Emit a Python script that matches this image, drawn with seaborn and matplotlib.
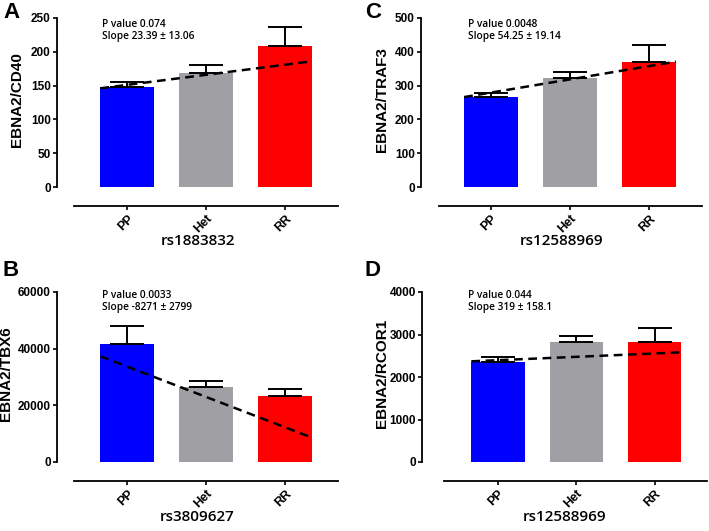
import matplotlib
matplotlib.use("Agg")
import matplotlib.pyplot as plt
import seaborn as sns
import pandas as pd
import numpy as np

sns.set_style("ticks")
plt.rcParams['font.family'] = ['Liberation Sans', 'DejaVu Sans']
for k in ["text.color", "axes.labelcolor", "xtick.color", "ytick.color", "axes.edgecolor"]:
    plt.rcParams[k] = "black"

categories = ["PP", "Het", "RR"]
colors = ["#0000FF", "#A0A0A4", "#FF0000"]

# Panel A
a_means = [148, 169, 208]
a_sem = [8, 11, 28]
a_trend = [146, 186]
# Panel B
b_means = [41500, 26400, 23300]
b_sem = [6600, 2100, 2350]
b_trend = [37300, 8600]
# Panel C
c_means = [265, 323, 371]
c_sem = [14, 17, 48]
c_trend = [266, 371]
# Panel D
d_means = [2353, 2816, 2831]
d_sem = [125, 150, 322]
d_trend = [2369, 2580]

panels = [
    dict(letter="A", means=a_means, sem=a_sem, trend=a_trend, ylabel="EBNA2/CD40", xlabel="rs1883832",
         p="P value 0.074", s="Slope 23.39 \u00b1 13.06", ymax=250, step=50,
         rect=[57, 18, 281, 169], xlim=(-0.89, 2.67), xb=-0.68, ylab_x=-0.117, xlab_y=-0.278,
         txt=(0.16, 0.964, 0.888), letter_xy=(3, 12)),
    dict(letter="B", means=b_means, sem=b_sem, trend=b_trend, ylabel="EBNA2/TBX6", xlabel="rs3809627",
         p="P value 0.0033", s="Slope -8271 \u00b1 2799", ymax=60000, step=20000,
         rect=[57, 292, 281, 170], xlim=(-0.89, 2.67), xb=-0.68, ylab_x=-0.155, xlab_y=-0.28,
         txt=(0.16, 0.982, 0.906), letter_xy=(3, 271)),
    dict(letter="C", means=c_means, sem=c_sem, trend=c_trend, ylabel="EBNA2/TRAF3", xlabel="rs12588969",
         p="P value 0.0048", s="Slope 54.25 \u00b1 19.14", ymax=500, step=100,
         rect=[421, 18, 281, 169], xlim=(-0.886, 2.67), xb=-0.66, ylab_x=-0.114, xlab_y=-0.278,
         txt=(0.167, 0.964, 0.888), letter_xy=(365, 12)),
    dict(letter="D", means=d_means, sem=d_sem, trend=d_trend, ylabel="EBNA2/RCOR1", xlabel="rs12588969",
         p="P value 0.044", s="Slope 319 \u00b1 158.1", ymax=4000, step=1000,
         rect=[422, 292, 285, 170], xlim=(-0.97, 2.67), xb=-0.69, ylab_x=-0.116, xlab_y=-0.28,
         txt=(0.161, 0.982, 0.906), letter_xy=(365, 271)),
]

W, H = 709, 531
fig = plt.figure(figsize=(W / 100, H / 100), dpi=100)

for pn in panels:
    l, t, w, h = pn["rect"]
    ax = fig.add_axes([l / W, 1 - (t + h) / H, w / W, h / H])
    df = pd.DataFrame({"genotype": categories, "value": pn["means"]})
    sns.barplot(data=df, x="genotype", y="value", hue="genotype", palette=colors, saturation=1,
                width=0.68, errorbar=None, legend=False, ax=ax, edgecolor="none", zorder=2)
    x = np.arange(len(categories))
    ax.errorbar(x, pn["means"], yerr=[np.zeros(3), pn["sem"]], fmt="none", ecolor="black",
                elinewidth=1.4, capsize=12, capthick=1.4, zorder=3)
    ax.plot([-0.34, 2.34], pn["trend"], color="black", lw=1.8, ls=(0, (3.5, 2.2)), zorder=4)
    sns.despine(ax=ax)
    ax.spines["bottom"].set_position(("outward", 14))
    ax.set_xlim(*pn["xlim"])
    ax.set_ylim(0, pn["ymax"])
    ax.spines["bottom"].set_bounds(pn["xb"], pn["xlim"][1])
    ax.spines["left"].set_bounds(0, pn["ymax"])
    for sp in ["left", "bottom"]:
        ax.spines[sp].set_linewidth(1.3)
    yt = np.arange(0, pn["ymax"] + 1, pn["step"])
    ax.set_yticks(yt)
    ax.set_yticklabels([f"{v:d}" for v in yt], fontsize=8.5, fontweight="bold")
    ax.set_xticks(x)
    ax.set_xticklabels(categories, rotation=45, ha="right", rotation_mode="anchor",
                       fontsize=9, fontweight="bold")
    ax.tick_params(axis="y", length=3, width=1.2, pad=1.5)
    ax.tick_params(axis="x", length=3, width=1.2, pad=1.5)
    ax.set_ylabel(pn["ylabel"], fontsize=11, fontweight="bold")
    ax.yaxis.set_label_coords(pn["ylab_x"], 0.52)
    ax.set_xlabel(pn["xlabel"], fontsize=11, fontweight="semibold", family=["Open Sans", "DejaVu Sans"])
    ax.xaxis.set_label_coords(0.5, pn["xlab_y"])
    tx, ty1, ty2 = pn["txt"]
    ax.text(tx, ty1, pn["p"], transform=ax.transAxes, fontsize=7.3, fontweight="semibold",
            family=["Open Sans", "DejaVu Sans"], va="center", ha="left")
    ax.text(tx, ty2, pn["s"], transform=ax.transAxes, fontsize=7.3, fontweight="semibold",
            family=["Open Sans", "DejaVu Sans"], va="center", ha="left")
    lx, ly = pn["letter_xy"]
    fig.text(lx / W, 1 - ly / H, pn["letter"], fontsize=16, fontweight="bold", va="center", ha="left")

fig.savefig("out.png", dpi=100)
